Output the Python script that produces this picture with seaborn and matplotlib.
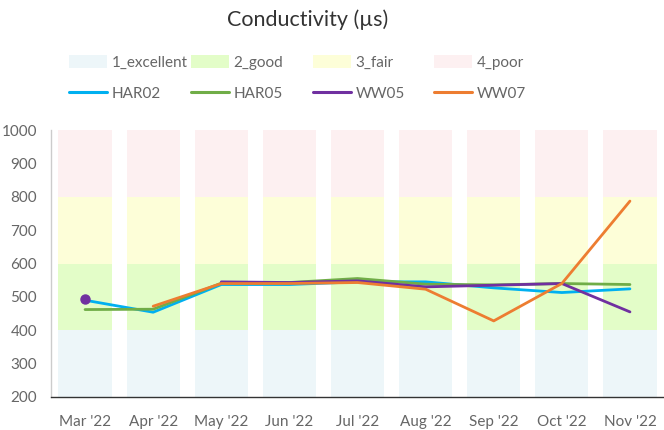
import numpy as np
import pandas as pd
import matplotlib
matplotlib.use("Agg")
import matplotlib.pyplot as plt
import seaborn as sns
from matplotlib.patches import Patch
from matplotlib.lines import Line2D

months = ["Mar '22", "Apr '22", "May '22", "Jun '22", "Jul '22",
          "Aug '22", "Sep '22", "Oct '22", "Nov '22"]
band_names = ["1_excellent", "2_good", "3_fair", "4_poor"]
band_upper = [400, 600, 800, 1000]
band_colors = ["#edf6f9", "#e3fdc8", "#fdfed8", "#fdf0f1"]

har02 = [490, 454, 537, 537, 545, 545, 527, 513, 524]
har05 = [462, 463, 541, 543, 555, 538, 536, 540, 537]
ww05 = [493, np.nan, 545, 543, 548, 530, 535, 540, 455]
ww07 = [np.nan, 472, 540, 540, 543, 523, 428, 540, 787]
series = {"HAR02": har02, "HAR05": har05, "WW05": ww05, "WW07": ww07}
series_colors = {"HAR02": "#00b0f0", "HAR05": "#70ad47", "WW05": "#7030a0", "WW07": "#ed7d31"}

sns.set_style("white")
plt.rcParams['font.family'] = ['Lato', 'DejaVu Sans']

W, H = 664, 430
fig = plt.figure(figsize=(W / 100, H / 100), dpi=100)
ax = fig.add_axes([51 / W, 33 / H, (664 - 51) / W, (397 - 130) / H])

# stacked bands: draw tallest first
for name, top, col in reversed(list(zip(band_names, band_upper, band_colors))):
    df = pd.DataFrame({"month": months, "value": [top] * len(months)})
    sns.barplot(data=df, x="month", y="value", color=col, saturation=1,
                width=0.78, ax=ax, linewidth=0)

xpos = np.arange(len(months))
for name, vals in series.items():
    ax.plot(xpos, vals, color=series_colors[name], lw=2.0, solid_joinstyle="round")
# isolated point (WW05 Mar)
ww05_arr = np.array(ww05, dtype=float)
for i in range(len(ww05_arr)):
    left = ww05_arr[i - 1] if i > 0 else np.nan
    right = ww05_arr[i + 1] if i < len(ww05_arr) - 1 else np.nan
    if not np.isnan(ww05_arr[i]) and np.isnan(left) and np.isnan(right):
        ax.plot([xpos[i]], [ww05_arr[i]], "o", color=series_colors["WW05"], ms=6.5)

ax.set_xlim(-0.5, len(months) - 0.5)
ax.set_ylim(200, 1000)
ax.set_yticks(range(200, 1001, 100))
ax.set_xlabel("")
ax.set_ylabel("")
for s in ["top", "right"]:
    ax.spines[s].set_visible(False)
ax.spines["left"].set_color("#cccccc")
ax.spines["left"].set_linewidth(1)
ax.spines["bottom"].set_color("#333333")
ax.spines["bottom"].set_linewidth(1)
ax.tick_params(axis="y", length=7, width=1, color="#cccccc", labelcolor="#666666",
               labelsize=11, pad=3)
ax.tick_params(axis="x", length=6, width=1, color="#cccccc", labelcolor="#666666",
               labelsize=11, pad=7)

fig.text(308 / W, 1 - 20 / H, "Conductivity (µs)", ha="center", va="center",
         fontsize=15.5, color="#333333")

col_x = [69, 191, 313, 434]
for i in range(4):
    name = list(series.keys())[i]
    handles = [Patch(facecolor=band_colors[i], edgecolor="none"),
               Line2D([0], [0], color=series_colors[name], lw=2.2)]
    labels = [band_names[i], name]
    leg = fig.legend(handles, labels, loc="upper left",
                     bbox_to_anchor=(col_x[i] / W, 1 - 55 / H),
                     frameon=False, borderpad=0, borderaxespad=0,
                     handlelength=2.5, handleheight=0.95, handletextpad=0.3,
                     labelspacing=1.05, fontsize=11, labelcolor="#666666")

fig.savefig("out.png", dpi=100)
